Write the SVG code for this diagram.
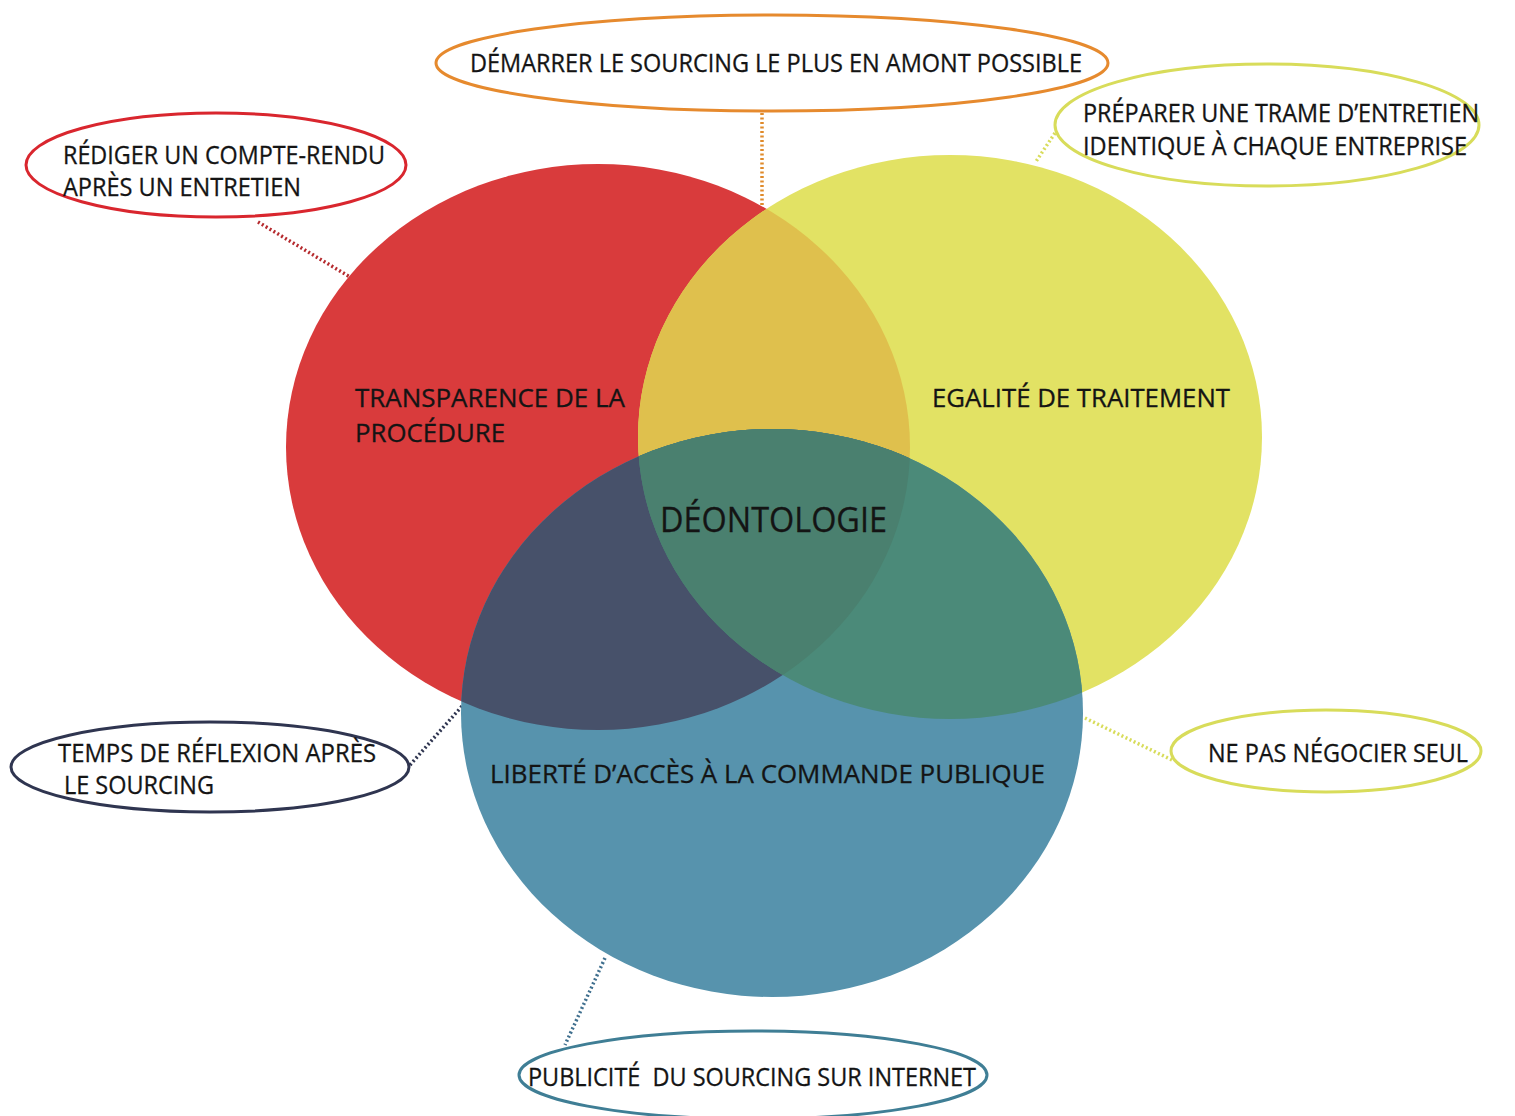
<svg xmlns="http://www.w3.org/2000/svg" width="1515" height="1116" viewBox="0 0 1515 1116">
<style>
.lbl{font-family:"Open Sans","Noto Sans","Liberation Sans",sans-serif;font-size:25px;fill:#141414;stroke:#141414;stroke-width:0.3}
.big{font-family:"Open Sans","Noto Sans","Liberation Sans",sans-serif;font-size:34px;fill:#141414;stroke:#141414;stroke-width:0.3}
.co{fill:#ffffff;stroke-width:3}
.dot{fill:none;stroke-width:3.5;stroke-dasharray:2 2.5}
</style>
<defs>
<clipPath id="cRed"><ellipse cx="598" cy="447" rx="312" ry="283"/></clipPath>
<clipPath id="cYel"><ellipse cx="950" cy="437" rx="312" ry="282"/></clipPath>
</defs>
<rect width="1515" height="1116" fill="#ffffff"/>
<g id="connectors">
<line class="dot" x1="258" y1="222" x2="350" y2="277" stroke="#b52a2e"/>
<line class="dot" x1="762" y1="113" x2="762" y2="277" stroke="#e08a2a"/>
<line class="dot" x1="1055" y1="133" x2="1035" y2="163" stroke="#d8dc5a"/>
<line class="dot" x1="410" y1="765" x2="463" y2="705" stroke="#2f3550"/>
<line class="dot" x1="1085" y1="718" x2="1172" y2="760" stroke="#d8dc5a" stroke-width="2.5"/>
<line class="dot" x1="605" y1="958" x2="565" y2="1045" stroke="#3f6f8e"/>
</g>
<g id="circle-transparence">
<ellipse cx="598" cy="447" rx="312" ry="283" fill="#d93b3c"/>
</g>
<g id="circle-egalite">
<ellipse cx="950" cy="437" rx="312" ry="282" fill="#e2e264"/>
<ellipse cx="950" cy="437" rx="312" ry="282" fill="#dfc04d" clip-path="url(#cRed)"/>
</g>
<g id="circle-liberte">
<ellipse cx="772" cy="713" rx="311" ry="284" fill="#5793ad"/>
<ellipse cx="772" cy="713" rx="311" ry="284" fill="#47516a" clip-path="url(#cRed)"/>
<ellipse cx="772" cy="713" rx="311" ry="284" fill="#4b8a79" clip-path="url(#cYel)"/>
<g clip-path="url(#cRed)"><ellipse cx="772" cy="713" rx="311" ry="284" fill="#4a806f" clip-path="url(#cYel)"/></g>
</g>
<g id="labels-main">
<text class="lbl" x="355" y="407" textLength="270" lengthAdjust="spacingAndGlyphs">TRANSPARENCE DE LA</text>
<text class="lbl" x="355" y="442" textLength="150" lengthAdjust="spacingAndGlyphs">PROCÉDURE</text>
<text class="lbl" x="932" y="407" textLength="298" lengthAdjust="spacingAndGlyphs">EGALITÉ DE TRAITEMENT</text>
<text class="lbl" x="490" y="783" textLength="555" lengthAdjust="spacingAndGlyphs">LIBERTÉ D’ACCÈS À LA COMMANDE PUBLIQUE</text>
</g>
<g id="center-deontologie">
<text class="big" x="660" y="532" textLength="227" lengthAdjust="spacingAndGlyphs">DÉONTOLOGIE</text>
</g>
<g id="callout-compte-rendu">
<ellipse class="co" cx="216" cy="165" rx="190" ry="52" stroke="#d9262e"/>
<text class="lbl" x="63" y="164" textLength="322" lengthAdjust="spacingAndGlyphs">RÉDIGER UN COMPTE-RENDU</text>
<text class="lbl" x="63" y="196" textLength="238" lengthAdjust="spacingAndGlyphs">APRÈS UN ENTRETIEN</text>
</g>
<g id="callout-demarrer">
<ellipse class="co" cx="772" cy="63" rx="336" ry="48" stroke="#e68a2e"/>
<text class="lbl" x="470" y="72" textLength="612" lengthAdjust="spacingAndGlyphs">DÉMARRER LE SOURCING LE PLUS EN AMONT POSSIBLE</text>
</g>
<g id="callout-preparer">
<ellipse class="co" cx="1267" cy="125" rx="212" ry="61" stroke="#d8dc5a"/>
<text class="lbl" x="1083" y="122" textLength="396" lengthAdjust="spacingAndGlyphs">PRÉPARER UNE TRAME D’ENTRETIEN</text>
<text class="lbl" x="1083" y="155" textLength="384" lengthAdjust="spacingAndGlyphs">IDENTIQUE À CHAQUE ENTREPRISE</text>
</g>
<g id="callout-temps">
<ellipse class="co" cx="210" cy="767" rx="199" ry="45" stroke="#2f3550"/>
<text class="lbl" x="58" y="762" textLength="318" lengthAdjust="spacingAndGlyphs">TEMPS DE RÉFLEXION APRÈS</text>
<text class="lbl" x="64" y="794" textLength="150" lengthAdjust="spacingAndGlyphs">LE SOURCING</text>
</g>
<g id="callout-negocier">
<ellipse class="co" cx="1326" cy="751" rx="155" ry="41" stroke="#d8dc5a"/>
<text class="lbl" x="1208" y="762" textLength="260" lengthAdjust="spacingAndGlyphs">NE PAS NÉGOCIER SEUL</text>
</g>
<g id="callout-publicite">
<ellipse class="co" cx="753" cy="1075" rx="234" ry="44" stroke="#3f7e95"/>
<text class="lbl" x="528" y="1086" textLength="448" lengthAdjust="spacingAndGlyphs" style="white-space:pre">PUBLICITÉ  DU SOURCING SUR INTERNET</text>
</g>
</svg>
